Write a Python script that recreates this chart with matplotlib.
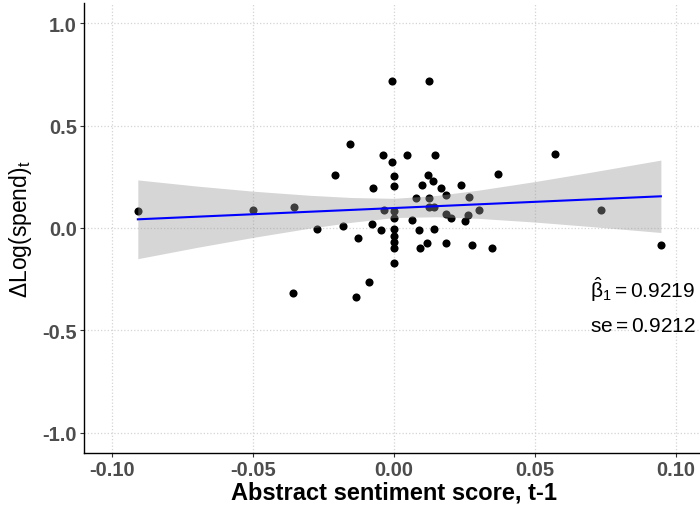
import matplotlib
matplotlib.use("Agg")
import matplotlib.pyplot as plt
import numpy as np

plt.rcParams['font.family'] = ['Liberation Sans', 'DejaVu Sans']
plt.rcParams['mathtext.fontset'] = 'custom'
plt.rcParams['mathtext.rm'] = 'Liberation Sans'
plt.rcParams['mathtext.it'] = 'Liberation Sans:italic'
plt.rcParams['mathtext.bf'] = 'Liberation Sans:bold'

# sentiment score (t-1) and change in log spend (t)
sentiment = [-0.0909, -0.050, -0.0356, -0.036, -0.0273,
             -0.0007, 0.0124, -0.0155, -0.0039, 0.0046, 0.0146, -0.0007,
             -0.0209, 0.0, 0.0119, 0.0139, 0.0368, -0.0073, 0.0, 0.0100,
             0.0167, 0.0236, 0.0186, 0.0078, 0.0124, 0.0267, 0.0124, 0.0141,
             -0.0035, 0.0, 0.0, 0.0303, 0.0186, 0.0202, 0.0264, 0.0251,
             0.0063, -0.0182, -0.0078, -0.0047, 0.0, 0.0089, 0.0143,
             -0.0128, 0.0, 0.0, 0.0, 0.0116, 0.0186, 0.0278, 0.0349,
             0.0093, 0.0, -0.0089, -0.0136,
             0.0573, 0.0735, 0.0949]
dlog_spend = [0.082, 0.088, 0.104, -0.319, -0.005,
              0.717, 0.717, 0.412, 0.358, 0.358, 0.358, 0.321,
              0.259, 0.253, 0.259, 0.231, 0.264, 0.195, 0.205, 0.210,
              0.195, 0.210, 0.163, 0.147, 0.147, 0.153, 0.101, 0.101,
              0.090, 0.085, 0.050, 0.088, 0.068, 0.049, 0.064, 0.033,
              0.041, 0.008, 0.020, -0.010, -0.005, -0.010, -0.003,
              -0.047, -0.037, -0.070, -0.099, -0.072, -0.072, -0.083, -0.099,
              -0.099, -0.173, -0.264, -0.339,
              0.360, 0.088, -0.085]

# fitted line and its confidence band
fit_x = [-0.0909, 0.0947]
fit_y = [0.0425, 0.155]
band_x = [-0.0909, -0.07, -0.05, -0.03, -0.015, 0.0, 0.015, 0.03, 0.05, 0.07, 0.0947]
band_lo = [-0.150, -0.095, -0.046, -0.001, 0.028, 0.051, 0.055, 0.047, 0.029, 0.007, -0.022]
band_hi = [0.235, 0.205, 0.180, 0.160, 0.149, 0.145, 0.159, 0.185, 0.227, 0.273, 0.332]

x_ticks = [-0.10, -0.05, 0.00, 0.05, 0.10]
y_ticks = [-1.0, -0.5, 0.0, 0.5, 1.0]

fig = plt.figure(figsize=(7, 5.1), dpi=100)
ax = fig.add_axes([84 / 700, 56 / 510, 620 / 700, 450 / 510])

ax.scatter(sentiment, dlog_spend, s=34, color='black', linewidths=0, zorder=2)
ax.fill_between(band_x, band_lo, band_hi, color='#999999', alpha=0.4, linewidth=0, zorder=3)
ax.plot(fit_x, fit_y, color='#0000FF', lw=1.5, zorder=4)

ax.set_xlim(-0.11, 0.11)
ax.set_ylim(-1.1, 1.1)
ax.set_xticks(x_ticks)
ax.set_xticklabels([f'{v:.2f}' for v in x_ticks])
ax.set_yticks(y_ticks)
ax.set_yticklabels([f'{v:.1f}' for v in y_ticks])

ax.grid(True, color='#D4D4D4', linestyle=':', linewidth=0.9)
ax.set_axisbelow(True)
for side in ['top', 'right']:
    ax.spines[side].set_visible(False)
for side in ['left', 'bottom']:
    ax.spines[side].set_color('black')
    ax.spines[side].set_linewidth(1.0)

ax.tick_params(axis='both', length=3, width=0.8, color='#333333',
               labelsize=14.5, labelcolor='#4D4D4D', pad=2)
for lab in ax.get_xticklabels() + ax.get_yticklabels():
    lab.set_fontweight('bold')

ax.set_xlabel('Abstract sentiment score, t-1', fontsize=17, fontweight='bold', labelpad=1)
ax.set_ylabel(r'$\Delta\mathrm{Log(spend)}_{\mathrm{t}}$', fontsize=16.5, labelpad=6)

ax.text(0.0695, -0.337, r'$\hat{\mathrm{\beta}}_1 = \mathrm{0.9219}$', fontsize=15,
        ha='left', va='baseline')
ax.text(0.0695, -0.503, r'$\mathrm{se} = \mathrm{0.9212}$', fontsize=15,
        ha='left', va='baseline')

fig.savefig('out.png', dpi=100)
